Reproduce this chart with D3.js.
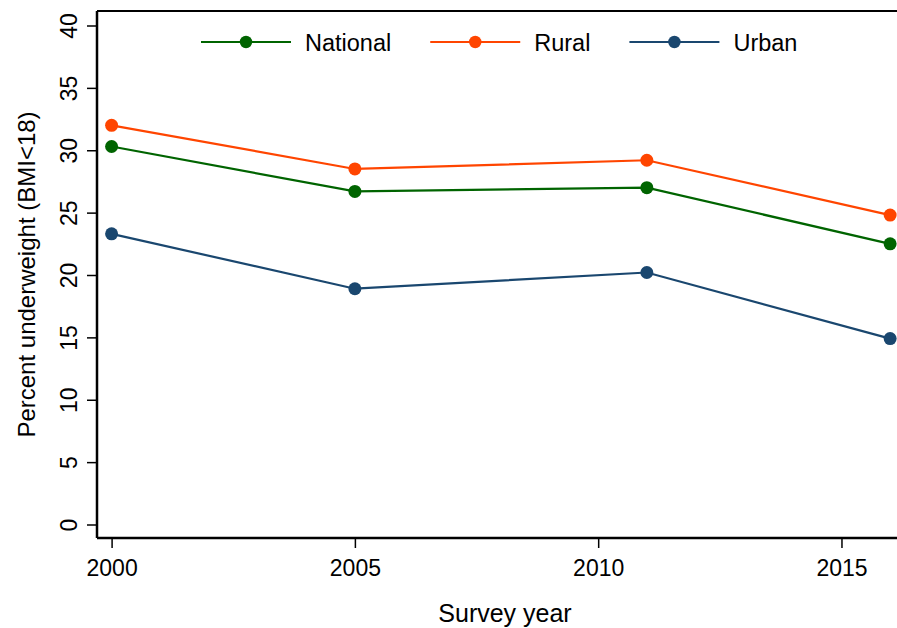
<!DOCTYPE html>
<html>
<head>
<meta charset="utf-8">
<script src="https://cdn.jsdelivr.net/npm/d3@7/dist/d3.min.js"></script>
<style>
  html, body { margin: 0; padding: 0; background: #fff; }
  svg { display: block; font-family: "Liberation Sans", Arial, Helvetica, sans-serif; }
</style>
</head>
<body>
<svg id="chart" width="897" height="628"></svg>
<script>
// Survey years and percent underweight (BMI<18) by residence
const years = [2000, 2005, 2011, 2016];
const national = [30.3, 26.7, 27.0, 22.5];
const rural = [32.0, 28.5, 29.2, 24.8];
const urban = [23.3, 18.9, 20.2, 14.9];

const xTicks = [2000, 2005, 2010, 2015];
const yTicks = [0, 5, 10, 15, 20, 25, 30, 35, 40];

const seriesNames = ["National", "Rural", "Urban"];
const seriesColors = ["#006400", "#ff4500", "#1a476f"];
const seriesValues = [national, rural, urban];

const svg = d3.select("#chart");

// plot region
const plotL = 97, plotR = 913, plotT = 11, plotB = 538;

const x = d3.scaleLinear().domain([1999.7, 2016.47]).range([plotL, plotR]);
const y = d3.scaleLinear().domain([0, 40]).range([524.5, 25.5]);

// frame: top border of the plot region
svg.append("line")
  .attr("x1", plotL).attr("x2", plotR)
  .attr("y1", plotT).attr("y2", plotT)
  .attr("stroke", "#000").attr("stroke-width", 2);

// x axis
const xAxis = svg.append("g")
  .attr("transform", `translate(0,${plotB})`)
  .call(d3.axisBottom(x).tickValues(xTicks).tickFormat(d3.format("d")).tickSize(10).tickSizeOuter(0));
xAxis.select(".domain").attr("d", `M${plotL},0H${plotR}`).attr("stroke-width", 2.5);
xAxis.selectAll(".tick line").attr("stroke-width", 1.5);
xAxis.selectAll(".tick text")
  .attr("y", 38).attr("dy", 0)
  .attr("font-size", 23).attr("fill", "#000")
  .attr("font-family", "'Liberation Sans', Arial, sans-serif");

// y axis
const yAxis = svg.append("g")
  .attr("transform", `translate(${plotL},0)`)
  .call(d3.axisLeft(y).tickValues(yTicks).tickSize(10).tickSizeOuter(0));
yAxis.select(".domain").attr("d", `M0,${plotT}V${plotB}`).attr("stroke-width", 2.5);
yAxis.selectAll(".tick line").attr("stroke-width", 1.5);
yAxis.selectAll(".tick text")
  .attr("x", 0).attr("dy", 0)
  .attr("transform", "translate(-20,0) rotate(-90)")
  .attr("text-anchor", "middle")
  .attr("font-size", 23).attr("fill", "#000")
  .attr("font-family", "'Liberation Sans', Arial, sans-serif");

// axis titles
svg.append("text")
  .attr("transform", `translate(35,${(plotT + plotB) / 2}) rotate(-90)`)
  .attr("text-anchor", "middle")
  .attr("font-size", 24)
  .text("Percent underweight (BMI<18)");

svg.append("text")
  .attr("x", (plotL + plotR) / 2).attr("y", 622)
  .attr("text-anchor", "middle")
  .attr("font-size", 25)
  .text("Survey year");

// series lines and markers
const line = d3.line().x((d, i) => x(years[i])).y(d => y(d));

seriesValues.forEach((vals, k) => {
  const g = svg.append("g");
  g.append("path")
    .datum(vals)
    .attr("d", line)
    .attr("fill", "none")
    .attr("stroke", seriesColors[k])
    .attr("stroke-width", 2.2);
  g.selectAll("circle")
    .data(vals)
    .join("circle")
    .attr("cx", (d, i) => x(years[i]))
    .attr("cy", d => y(d))
    .attr("r", 6.5)
    .attr("fill", seriesColors[k]);
});

// legend
const legend = svg.append("g").attr("transform", "translate(0,42)");
let lx = 201;
seriesNames.forEach((name, k) => {
  const item = legend.append("g").attr("transform", `translate(${lx},0)`);
  item.append("line")
    .attr("x1", 0).attr("x2", 90).attr("y1", 0).attr("y2", 0)
    .attr("stroke", seriesColors[k]).attr("stroke-width", 2.2);
  item.append("circle").attr("cx", 45).attr("cy", 0).attr("r", 6.2).attr("fill", seriesColors[k]);
  const t = item.append("text")
    .attr("x", 104).attr("y", 9)
    .attr("font-size", 23.5)
    .text(name);
  lx += 104 + t.node().getComputedTextLength() + 39;
});
</script>
</body>
</html>
